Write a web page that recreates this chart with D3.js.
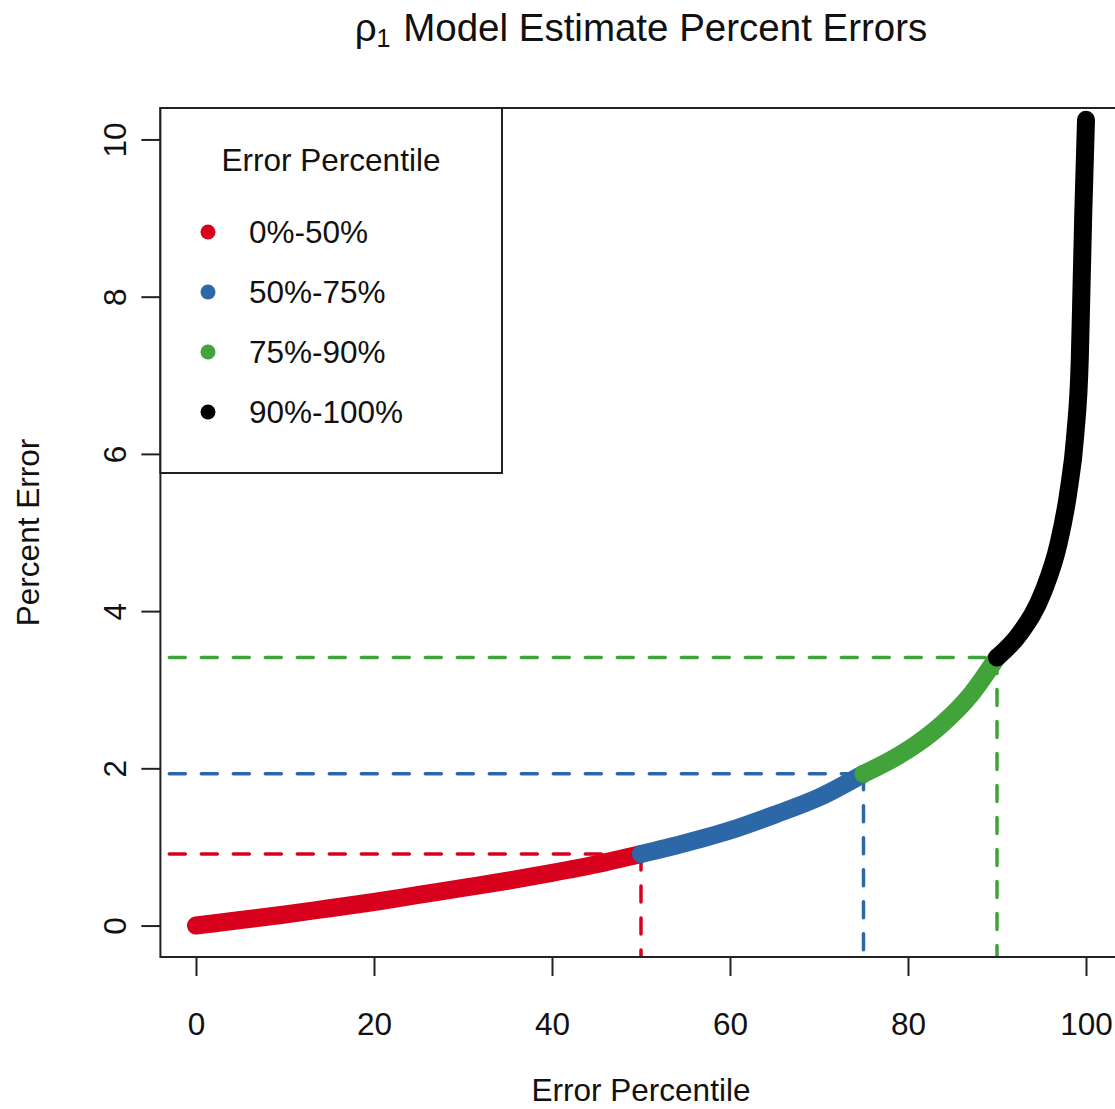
<!DOCTYPE html>
<html>
<head>
<meta charset="utf-8">
<script src="https://cdn.jsdelivr.net/npm/d3@7"></script>
<style>
  body { margin: 0; background: #fff; }
  text { font-family: "Liberation Sans", Arial, Helvetica, sans-serif; fill: #111; }
</style>
</head>
<body>
<div id="chart-area"></div>
<script>
//DATA------------------------------------------------------------------------
// percent error, split by percentile group
const pctRed   = [0, 5, 10, 15, 20, 25, 30, 35, 40, 45, 50]
const errRed   = [0.00, 0.07, 0.14, 0.22, 0.30, 0.39, 0.48, 0.57, 0.67, 0.78, 0.91]
const pctBlue  = [50, 55, 60, 65, 70, 75]
const errBlue  = [0.91, 1.05, 1.21, 1.41, 1.63, 1.93]
const pctGreen = [75, 78, 81, 84, 87, 90]
const errGreen = [1.93, 2.10, 2.31, 2.58, 2.93, 3.41]
const pctBlack = [90, 92.6, 95.2, 96.9, 98.0, 98.8, 99.3, 99.5, 99.7, 100]
const errBlack = [3.41, 3.72, 4.25, 4.85, 5.50, 6.25, 7.20, 8.14, 9.09, 10.25]

const groupLabels = ["0%-50%", "50%-75%", "75%-90%", "90%-100%"]
const groupColors = ["#D7001D", "#2C68A8", "#42A33A", "#000000"]

// cut-off guide lines (percentile, percent error)
const cutPct = [50, 75, 90]
const cutErr = [0.91, 1.93, 3.41]
const guideStart = -3

const xTicks = [0, 20, 40, 60, 80, 100]
const yTicks = [0, 2, 4, 6, 8, 10]

//MARGIN CONVENTION-----------------------------------------------------------
const W = 1115, H = 1109
const BOX = { LEFT: 160.4, RIGHT: 1121.6, TOP: 108, BOTTOM: 957 }
const FONT = 31.5

const svg = d3.select("#chart-area").append("svg")
  .attr("width", W)
  .attr("height", H)

//SCALES----------------------------------------------------------------------
// R style: limits padded by 4% on each side
const xScale = d3.scaleLinear().domain([-4, 104]).range([BOX.LEFT, BOX.RIGHT])
const yScale = d3.scaleLinear().domain([-0.4, 10.4]).range([BOX.BOTTOM, BOX.TOP])

const groups = [
  { pct: pctRed, err: errRed },
  { pct: pctBlue, err: errBlue },
  { pct: pctGreen, err: errGreen },
  { pct: pctBlack, err: errBlack }
].map((g, i) => ({
  label: groupLabels[i],
  color: groupColors[i],
  points: g.pct.map((p, j) => ({ p: p, e: g.err[j] }))
}))

//GUIDE LINES-----------------------------------------------------------------
svg.append("clipPath").attr("id", "plot-clip")
  .append("rect")
  .attr("x", BOX.LEFT).attr("y", BOX.TOP)
  .attr("width", BOX.RIGHT - BOX.LEFT).attr("height", BOX.BOTTOM - BOX.TOP)

const plot = svg.append("g").attr("clip-path", "url(#plot-clip)")

cutPct.forEach((p, i) => {
  plot.append("line")
    .attr("x1", xScale(guideStart)).attr("x2", xScale(p))
    .attr("y1", yScale(cutErr[i])).attr("y2", yScale(cutErr[i]))
    .attr("stroke", groupColors[i])
    .attr("stroke-width", 3.5)
    .attr("stroke-dasharray", "16,16")
    .attr("stroke-linecap", "round")
  plot.append("line")
    .attr("x1", xScale(p)).attr("x2", xScale(p))
    .attr("y1", yScale(cutErr[i])).attr("y2", yScale(-0.4))
    .attr("stroke", groupColors[i])
    .attr("stroke-width", 3.5)
    .attr("stroke-dasharray", "16,16")
    .attr("stroke-linecap", "round")
})

//CURVE-----------------------------------------------------------------------
const line = d3.line()
  .x(d => xScale(d.p))
  .y(d => yScale(d.e))
  .curve(d3.curveMonotoneX)

plot.selectAll("path.curve").data(groups).enter().append("path")
  .attr("class", "curve")
  .attr("d", d => line(d.points))
  .attr("fill", "none")
  .attr("stroke", d => d.color)
  .attr("stroke-width", 18)
  .attr("stroke-linecap", "round")
  .attr("stroke-linejoin", "round")

//AXES------------------------------------------------------------------------
const xAxis = d3.axisBottom(xScale).tickValues(xTicks).tickSize(19).tickSizeOuter(0)
const gAxisX = svg.append("g")
  .attr("transform", `translate(0, ${BOX.BOTTOM})`)
  .call(xAxis)
gAxisX.select(".domain").remove()
gAxisX.selectAll("line").attr("stroke", "#222").attr("stroke-width", 2)
gAxisX.selectAll("text")
  .attr("y", 78).attr("dy", 0)
  .attr("font-size", FONT)
  .attr("fill", "#111")

const yAxis = d3.axisLeft(yScale).tickValues(yTicks).tickSize(19).tickSizeOuter(0)
const gAxisY = svg.append("g")
  .attr("transform", `translate(${BOX.LEFT}, 0)`)
  .call(yAxis)
gAxisY.select(".domain").remove()
gAxisY.selectAll("line").attr("stroke", "#222").attr("stroke-width", 2)
gAxisY.selectAll("text")
  .attr("transform", "rotate(-90)")
  .attr("x", 0).attr("y", -34).attr("dy", 0)
  .attr("text-anchor", "middle")
  .attr("font-size", FONT)
  .attr("fill", "#111")

// axis line over the tick range, then the plot box
svg.append("line")
  .attr("x1", xScale(0)).attr("x2", xScale(100))
  .attr("y1", BOX.BOTTOM).attr("y2", BOX.BOTTOM)
  .attr("stroke", "#222").attr("stroke-width", 2)
svg.append("rect")
  .attr("x", BOX.LEFT).attr("y", BOX.TOP)
  .attr("width", BOX.RIGHT - BOX.LEFT).attr("height", BOX.BOTTOM - BOX.TOP)
  .attr("fill", "none").attr("stroke", "#222").attr("stroke-width", 2)

//LABELS----------------------------------------------------------------------
svg.append("text")
  .attr("x", (BOX.LEFT + BOX.RIGHT) / 2).attr("y", 1101)
  .attr("text-anchor", "middle").attr("font-size", FONT)
  .text("Error Percentile")

svg.append("text")
  .attr("transform", `translate(39, ${(BOX.TOP + BOX.BOTTOM) / 2}) rotate(-90)`)
  .attr("text-anchor", "middle").attr("font-size", FONT)
  .text("Percent Error")

const title = svg.append("text")
  .attr("x", (BOX.LEFT + BOX.RIGHT) / 2).attr("y", 41)
  .attr("text-anchor", "middle").attr("font-size", 38.5)
title.append("tspan").text("ρ")
title.append("tspan").attr("font-size", 25).attr("dy", 6).text("1")
title.append("tspan").attr("dy", -6).attr("dx", 2).text(" Model Estimate Percent Errors")

//LEGEND----------------------------------------------------------------------
const legend = svg.append("g")
legend.append("rect")
  .attr("x", BOX.LEFT).attr("y", BOX.TOP)
  .attr("width", 502 - BOX.LEFT).attr("height", 473 - BOX.TOP)
  .attr("fill", "#fff").attr("stroke", "#222").attr("stroke-width", 2)
legend.append("text")
  .attr("x", 331).attr("y", 171)
  .attr("text-anchor", "middle").attr("font-size", FONT)
  .text("Error Percentile")

const items = legend.selectAll("g.item").data(groups).enter().append("g")
  .attr("class", "item")
  .attr("transform", (d, i) => `translate(0, ${232 + i * 60})`)
items.append("circle")
  .attr("cx", 208).attr("cy", 0).attr("r", 7.5)
  .attr("fill", d => d.color)
items.append("text")
  .attr("x", 249).attr("y", 11)
  .attr("font-size", FONT)
  .text(d => d.label)
</script>
</body>
</html>
